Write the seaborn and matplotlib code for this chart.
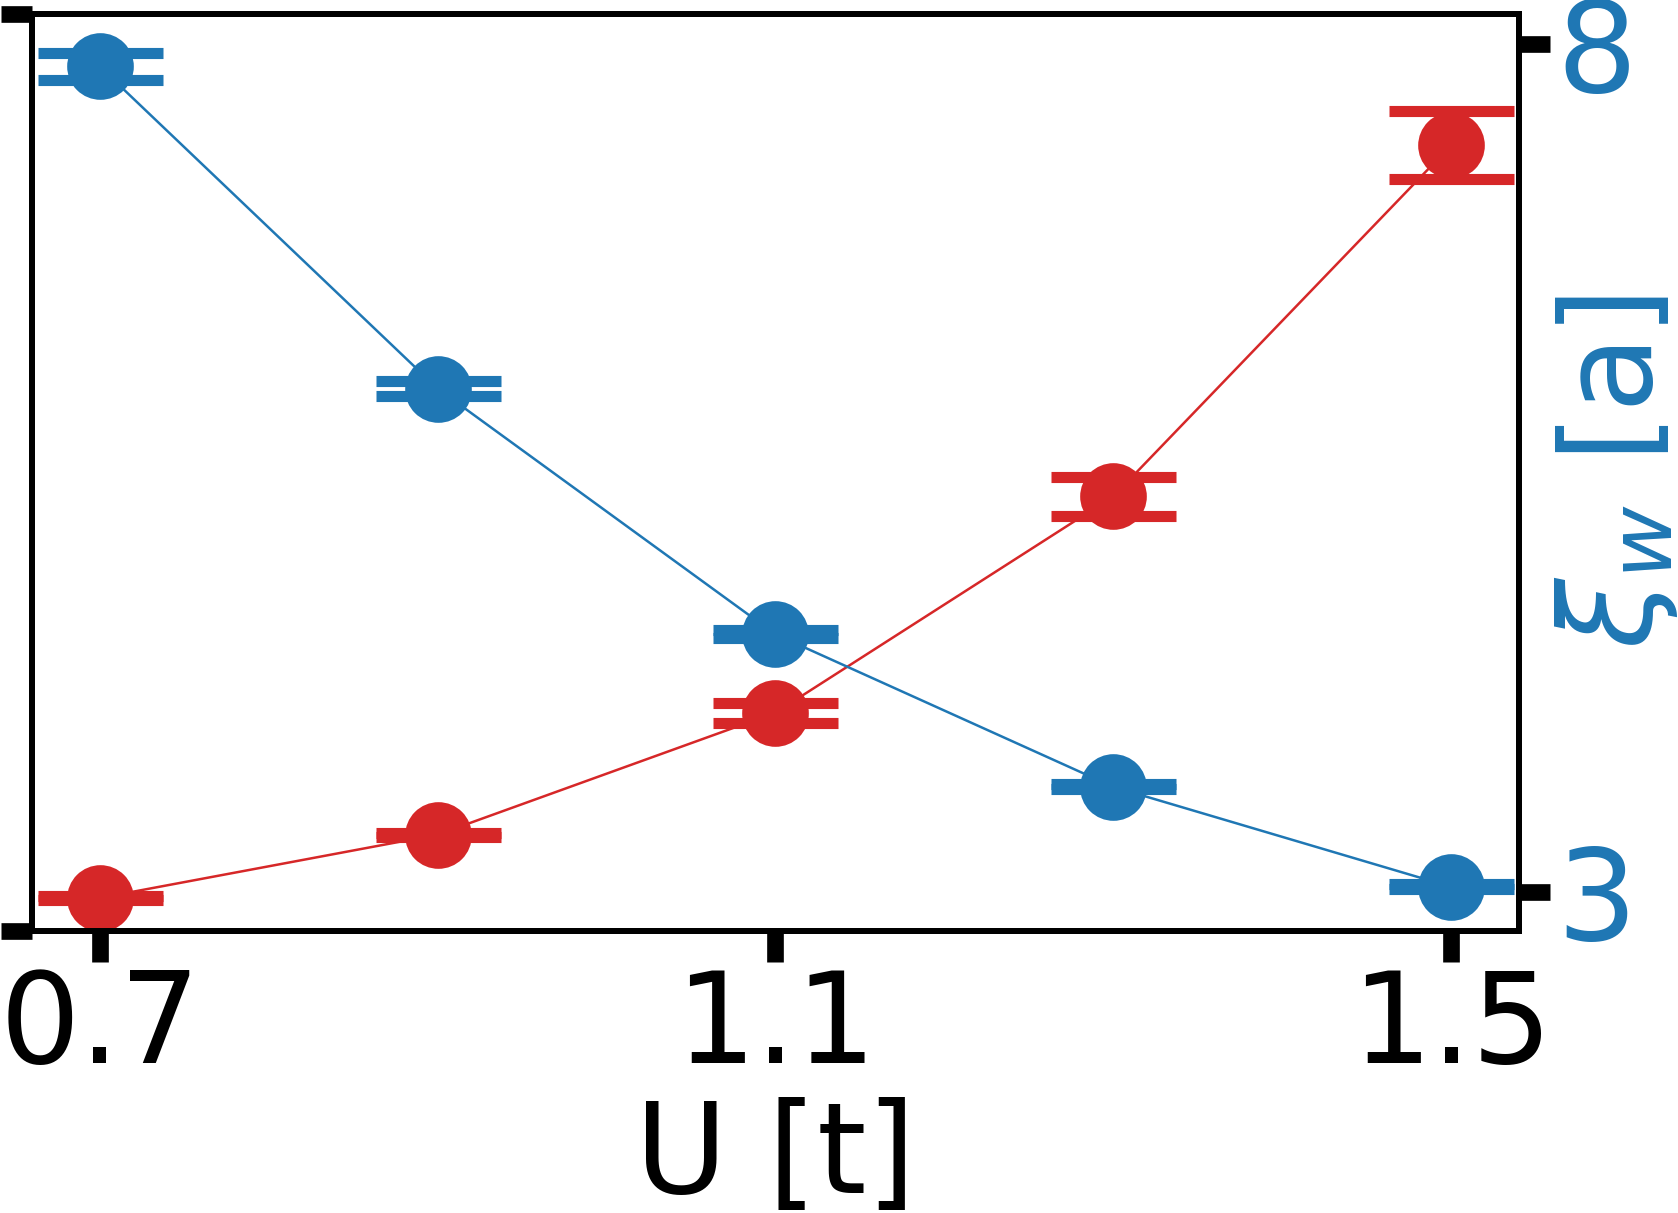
import numpy as np
import pandas as pd
import matplotlib
matplotlib.use("Agg")
import matplotlib.pyplot as plt
import seaborn as sns

# data
U = [0.7, 0.9, 1.1, 1.3, 1.5]
# left axis (red), arbitrary units, labels not shown in the reference
red_vals = [0.036, 0.105, 0.238, 0.474, 0.857]
red_err = [0.002, 0.002, 0.011, 0.021, 0.037]
# right axis (blue) xi_w in units of a
xi_vals = [7.87, 5.97, 4.52, 3.62, 3.03]
xi_err = [0.08, 0.044, 0.024, 0.015, 0.015]

red = "#d62728"
blue = "#1f77b4"

sns.set_theme(style="ticks")
plt.rcParams['font.family'] = ['DejaVu Sans']
plt.rcParams['mathtext.fontset'] = 'dejavusans'
plt.rcParams['text.color'] = 'black'
plt.rcParams['axes.labelcolor'] = 'black'
plt.rcParams['xtick.color'] = 'black'
plt.rcParams['ytick.color'] = 'black'

fs = 91
fig = plt.figure(figsize=(16.78, 12.13), dpi=100)
ax = fig.add_axes([0.0191, 0.2325, 0.9052 - 0.0191, 0.9885 - 0.2325])
ax2 = ax.twinx()

df = pd.DataFrame({"U": U, "red": red_vals, "xi": xi_vals})

sns.lineplot(data=df, x="U", y="red", ax=ax, color=red, linewidth=1.8,
             marker="o", markersize=48, markeredgewidth=0)
ax.errorbar(U, red_vals, yerr=red_err, fmt="none", ecolor=red,
            elinewidth=1, capsize=45, capthick=8)

sns.lineplot(data=df, x="U", y="xi", ax=ax2, color=blue, linewidth=1.8,
             marker="o", markersize=48, markeredgewidth=0)
ax2.errorbar(U, xi_vals, yerr=xi_err, fmt="none", ecolor=blue,
             elinewidth=1, capsize=45, capthick=8)

ax.set_xlim(0.66, 1.54)
ax.set_ylim(0, 1)
ax2.set_ylim(2.77, 8.18)

ax.set_xticks([0.7, 1.1, 1.5])
ax.set_xticklabels(["0.7", "1.1", "1.5"])
ax.set_yticks([0, 1])
ax.set_yticklabels([])
ax2.set_yticks([3, 8])
ax2.set_yticklabels(["3", "8"])

ax.set_xlabel("U [t]", fontsize=fs, labelpad=6)
ax.set_ylabel("")
ax2.set_ylabel(r"$\xi_w$ [a]", fontsize=fs, color=blue)
ax2.yaxis.set_label_coords(1.023, 0.5)

ax.tick_params(axis="x", length=22, width=12, labelsize=fs, pad=4)
ax.tick_params(axis="y", length=22, width=12, labelsize=fs, pad=2)
ax2.tick_params(axis="y", length=22, width=12, labelsize=fs, pad=5,
                labelcolor=blue)

for a in (ax, ax2):
    for s in a.spines.values():
        s.set_linewidth(4.3)
        s.set_color("black")

fig.savefig("out.png", dpi=100)
